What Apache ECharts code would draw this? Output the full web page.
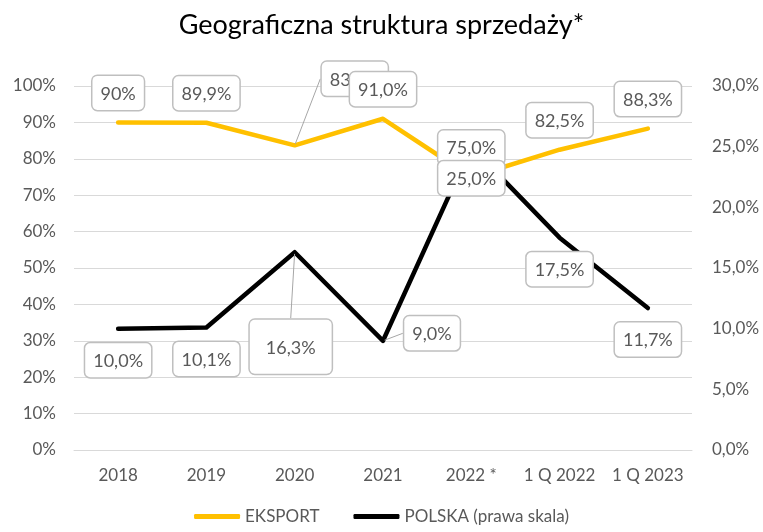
<!DOCTYPE html>
<html>
<head>
<meta charset="utf-8">
<script src="https://cdn.jsdelivr.net/npm/echarts@6/dist/echarts.min.js"></script>
<style>
	html, body { margin: 0; padding: 0; background: #fff; }
	#chart { width: 763px; height: 532px; }
</style>
</head>
<body>
<div id="chart"></div>
<script>
	//kategorie osi X
	var categories = ['2018', '2019', '2020', '2021', '2022 *', '1 Q 2022', '1 Q 2023'];
	//EKSPORT - lewa skala
	var eksport = [90, 89.9, 83.7, 91.0, 75.0, 82.5, 88.3];
	var eksportLabels = ['90%', '89,9%', '83,7%', '91,0%', '75,0%', '82,5%', '88,3%'];
	//POLSKA - prawa skala
	var polska = [10.0, 10.1, 16.3, 9.0, 25.0, 17.5, 11.7];
	var polskaLabels = ['10,0%', '10,1%', '16,3%', '9,0%', '25,0%', '17,5%', '11,7%'];

	var FONT = 'Lato';
	var GREY = '#595959';

	//formatter etykiet z tablicy tekstów
	function textLabel(cfg, texts) {
		cfg.formatter = function (p) { return texts[p.dataIndex]; };
		return cfg;
	}
	//wspólny styl etykiet (ramka)
	function boxLabel(pos, dist) {
		return {
			show: true, position: pos, distance: dist,
			color: GREY, fontFamily: FONT, fontSize: 18, lineHeight: 20,
			backgroundColor: '#fff', borderColor: '#bfbfbf', borderWidth: 1.5, borderRadius: 5,
			padding: [8, 8, 6, 8]
		};
	}
	var guide = { show: true, lineStyle: { color: '#a6a6a6', width: 1 } };

	var eksportData = eksport.map(function (v, i) {
		var item = { value: v };
		if (i == 2) item.labelLine = guide;
		return item;
	});
	var polskaData = polska.map(function (v, i) {
		var item = { value: v };
		if (i == 2) {
			item.label = { padding: [18, 16, 16, 16] };
			item.labelLine = guide;
		}
		if (i == 3) item.labelLine = guide;
		return item;
	});

	var myChart = echarts.init(document.getElementById('chart'));
	var option = {
		animation: false,
		title: {
			text: 'Geograficzna struktura sprzedaży*',
			left: 'center', top: 7,
			textStyle: { fontFamily: FONT, fontSize: 27, fontWeight: 'normal', color: '#000' }
		},
		grid: { left: 74, right: 71, top: 86, bottom: 82 },
		legend: {
			bottom: 2, left: 'center',
			itemWidth: 46, itemHeight: 5, itemGap: 34,
			icon: 'roundRect',
			textStyle: { fontFamily: FONT, fontSize: 17, color: GREY },
			data: ['EKSPORT', 'POLSKA (prawa skala)']
		},
		xAxis: {
			type: 'category', data: categories, boundaryGap: true,
			axisLine: { lineStyle: { color: '#d9d9d9' } },
			axisTick: { show: false },
			axisLabel: { color: GREY, fontFamily: FONT, fontSize: 17, margin: 17, interval: 0 }
		},
		yAxis: [{
			type: 'value', min: 0, max: 100, interval: 10,
			axisLabel: {
				color: GREY, fontFamily: FONT, fontSize: 17, margin: 18,
				formatter: function (v) { return v + '%'; }
			},
			axisLine: { show: false }, axisTick: { show: false },
			splitLine: { lineStyle: { color: '#d9d9d9', width: 1 } }
		}, {
			type: 'value', min: 0, max: 30, interval: 5, position: 'right',
			axisLabel: {
				color: GREY, fontFamily: FONT, fontSize: 17, margin: 20,
				formatter: function (v) { return v.toFixed(1).replace('.', ',') + '%'; }
			},
			axisLine: { show: false }, axisTick: { show: false },
			splitLine: { show: false }
		}],
		series: [{
			name: 'EKSPORT', type: 'line', yAxisIndex: 0, data: eksportData,
			color: '#FFC000',
			symbol: 'circle', symbolSize: 3, showSymbol: true,
			lineStyle: { width: 4.5, cap: 'round', join: 'round' },
			label: textLabel(boxLabel('top', 11), eksportLabels),
			labelLayout: function (p) {
				if (p.dataIndex == 2) return { dx: 60, dy: -37 };
				return {};
			}
		}, {
			name: 'POLSKA (prawa skala)', type: 'line', yAxisIndex: 1, data: polskaData,
			color: '#000000',
			symbol: 'circle', symbolSize: 3, showSymbol: true,
			lineStyle: { width: 4.5, cap: 'round', join: 'round' },
			label: textLabel(boxLabel('bottom', 13), polskaLabels),
			labelLayout: function (p) {
				if (p.dataIndex == 2) return { dx: -4, dy: 53 };
				if (p.dataIndex == 3) return { dx: 49, dy: -39 };
				return {};
			}
		}]
	};

	myChart.setOption(option);
</script>
</body>
</html>
